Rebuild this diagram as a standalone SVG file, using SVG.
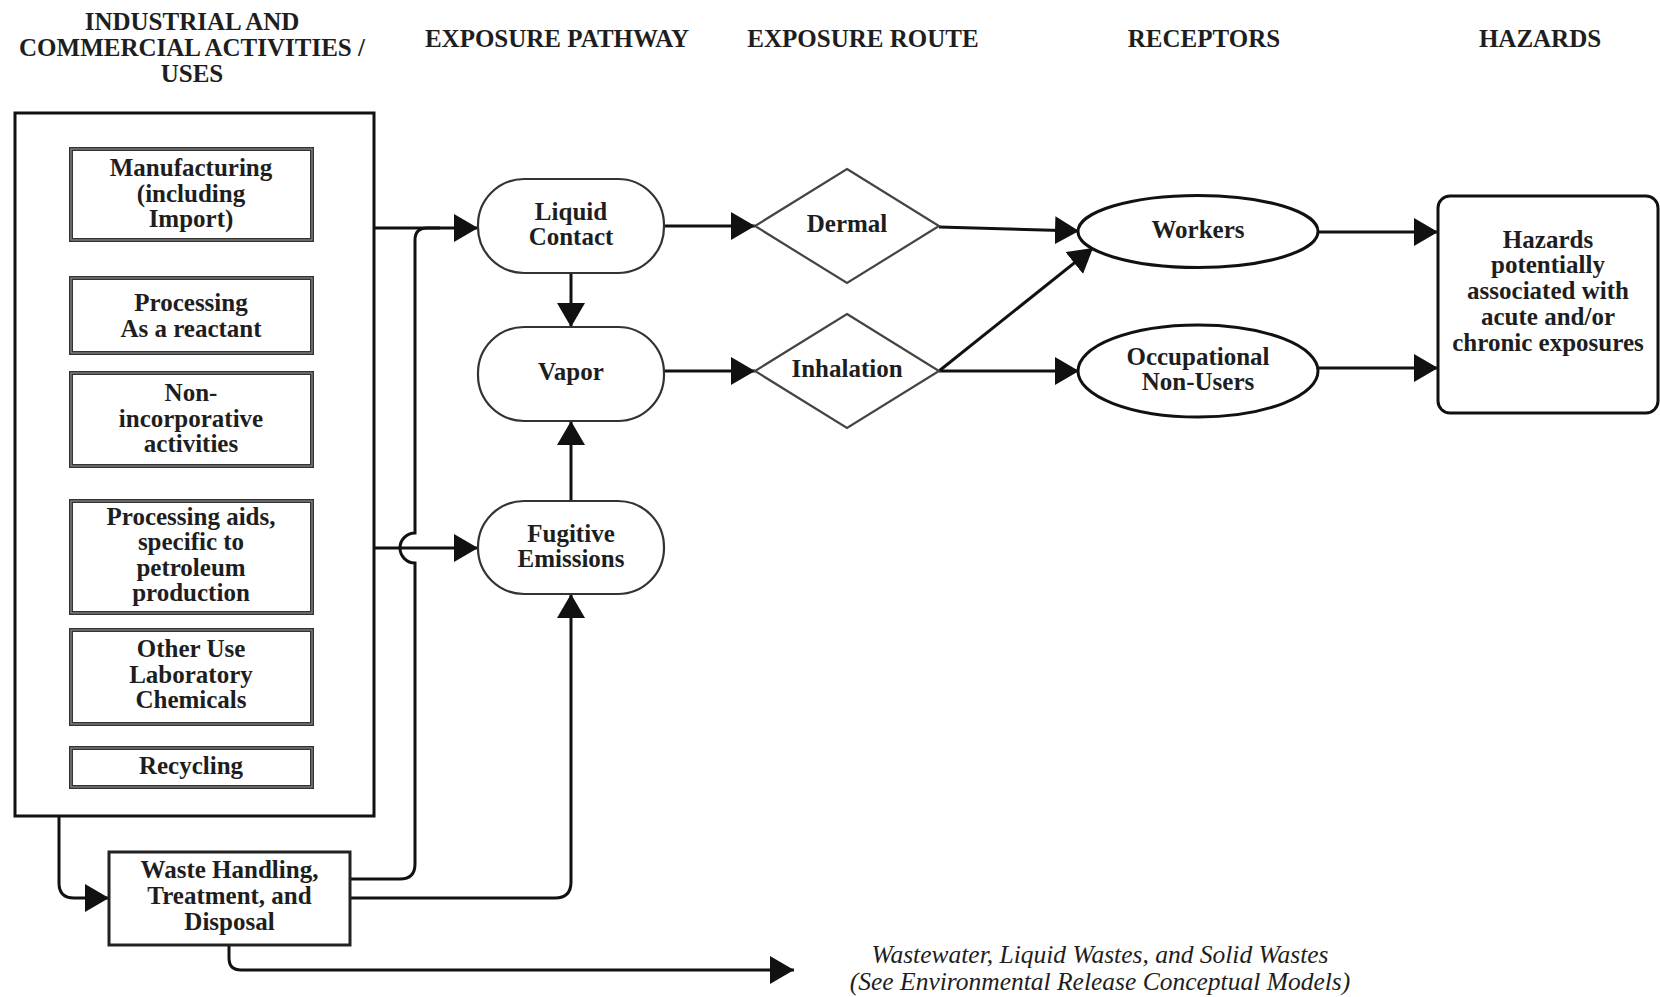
<svg xmlns="http://www.w3.org/2000/svg" width="1660" height="997" viewBox="0 0 1660 997">
<style>
  text { font-family: "Liberation Serif", "Times New Roman", serif; font-size: 25px; font-weight: bold; fill: #1e1e1e; text-anchor: middle; }
  .it { font-style: italic; font-weight: normal; font-size: 25.5px; }
  .outer { fill: #fff; stroke: #111; stroke-width: 3; }
  .inA { fill: #fff; stroke: #333; stroke-width: 4; }
  .inB { fill: none; stroke: #8a8a8a; stroke-width: 1.2; }
  .waste { fill: #fff; stroke: #222; stroke-width: 3; }
  .pill { fill: #fff; stroke: #333; stroke-width: 2.2; }
  .dia { fill: #fff; stroke: #444; stroke-width: 2.2; }
  .ell { fill: #fff; stroke: #111; stroke-width: 3; }
  .haz { fill: #fff; stroke: #111; stroke-width: 3; }
  .c { fill: none; stroke: #111; stroke-width: 3; }
  .ca { fill: none; stroke: #111; stroke-width: 3; marker-end: url(#ah); }
</style>
<defs>
  <marker id="ah" markerUnits="userSpaceOnUse" markerWidth="26" markerHeight="30" refX="24" refY="14" orient="auto" viewBox="0 0 26 30">
    <path d="M0,0 L24,14 L0,28 z" fill="#111"/>
  </marker>
</defs>
<rect width="1660" height="997" fill="#fff"/>

<g id="headers">
  <text x="192" y="30">INDUSTRIAL AND</text>
  <text x="192" y="56">COMMERCIAL ACTIVITIES /</text>
  <text x="192" y="82">USES</text>
  <text x="557" y="47">EXPOSURE PATHWAY</text>
  <text x="863" y="47">EXPOSURE ROUTE</text>
  <text x="1204" y="47">RECEPTORS</text>
  <text x="1540" y="47">HAZARDS</text>
</g>

<g id="connectors">
  <path class="ca" d="M374,228 H478"/>
  <path class="ca" d="M374,548 H478"/>
  <path class="ca" d="M571,273 V327"/>
  <path class="ca" d="M571,501 V421"/>
  <path class="ca" d="M664,226 H755"/>
  <path class="ca" d="M664,371 H755"/>
  <path class="ca" d="M939,227 L1079,231"/>
  <path class="ca" d="M939,371 L1093,248"/>
  <path class="ca" d="M939,371 H1079"/>
  <path class="ca" d="M1318,232 H1438"/>
  <path class="ca" d="M1318,368 H1438"/>
  <path class="ca" d="M59,816 V883 Q59,898 74,898 H109"/>
  <path class="c" d="M350,879 H400 Q415,879 415,864 V563 A15,15 0 0 1 415,533 V240 Q415,228 427,228 H440"/>
  <path class="ca" d="M350,898 H555 Q571,898 571,882 V594"/>
  <path class="ca" d="M229,945 V958 Q229,970 241,970 H794"/>
</g>

<g id="activities">
  <rect class="outer" x="15" y="113" width="359" height="703"/>
</g>

<g id="manufacturing">
  <rect class="inA" x="71" y="149" width="241" height="91"/>
  <rect class="inB" x="71" y="149" width="241" height="91"/>
  <text x="191" y="176">Manufacturing</text>
  <text x="191" y="201.5">(including</text>
  <text x="191" y="227">Import)</text>
</g>
<g id="processing">
  <rect class="inA" x="71" y="278" width="241" height="75"/>
  <rect class="inB" x="71" y="278" width="241" height="75"/>
  <text x="191" y="311">Processing</text>
  <text x="191" y="337">As a reactant</text>
</g>
<g id="nonincorporative">
  <rect class="inA" x="71" y="373" width="241" height="93"/>
  <rect class="inB" x="71" y="373" width="241" height="93"/>
  <text x="191" y="401">Non-</text>
  <text x="191" y="427">incorporative</text>
  <text x="191" y="452">activities</text>
</g>
<g id="processingaids">
  <rect class="inA" x="71" y="501" width="241" height="112"/>
  <rect class="inB" x="71" y="501" width="241" height="112"/>
  <text x="191" y="525">Processing aids,</text>
  <text x="191" y="550">specific to</text>
  <text x="191" y="576">petroleum</text>
  <text x="191" y="601">production</text>
</g>
<g id="otheruse">
  <rect class="inA" x="71" y="630" width="241" height="94"/>
  <rect class="inB" x="71" y="630" width="241" height="94"/>
  <text x="191" y="657">Other Use</text>
  <text x="191" y="683">Laboratory</text>
  <text x="191" y="708">Chemicals</text>
</g>
<g id="recycling">
  <rect class="inA" x="71" y="748" width="241" height="39"/>
  <rect class="inB" x="71" y="748" width="241" height="39"/>
  <text x="191" y="774">Recycling</text>
</g>

<g id="waste">
  <rect class="waste" x="109" y="852" width="241" height="93"/>
  <text x="229.5" y="878">Waste Handling,</text>
  <text x="229.5" y="904">Treatment, and</text>
  <text x="229.5" y="930">Disposal</text>
</g>

<g id="liquid">
  <rect class="pill" x="478" y="179" width="186" height="94" rx="46" ry="46"/>
  <text x="571" y="220">Liquid</text>
  <text x="571" y="245">Contact</text>
</g>
<g id="vapor">
  <rect class="pill" x="478" y="327" width="186" height="94" rx="46" ry="46"/>
  <text x="571" y="380">Vapor</text>
</g>
<g id="fugitive">
  <rect class="pill" x="478" y="501" width="186" height="93" rx="46" ry="46"/>
  <text x="571" y="542">Fugitive</text>
  <text x="571" y="567">Emissions</text>
</g>

<g id="dermal">
  <polygon class="dia" points="847,169 939,226 847,283 755,226"/>
  <text x="847" y="232">Dermal</text>
</g>
<g id="inhalation">
  <polygon class="dia" points="847,314 939,371 847,428 755,371"/>
  <text x="847" y="377">Inhalation</text>
</g>

<g id="workers">
  <ellipse class="ell" cx="1198" cy="231.5" rx="120" ry="36"/>
  <text x="1198" y="238">Workers</text>
</g>
<g id="occupational">
  <ellipse class="ell" cx="1198" cy="371" rx="120" ry="46"/>
  <text x="1198" y="365">Occupational</text>
  <text x="1198" y="390">Non-Users</text>
</g>

<g id="hazards">
  <rect class="haz" x="1438" y="196" width="220" height="217" rx="12" ry="12"/>
  <text x="1548" y="248">Hazards</text>
  <text x="1548" y="273">potentially</text>
  <text x="1548" y="299">associated with</text>
  <text x="1548" y="325">acute and/or</text>
  <text x="1548" y="351">chronic exposures</text>
</g>

<g id="wastewater">
  <text class="it" x="1100" y="963">Wastewater, Liquid Wastes, and Solid Wastes</text>
  <text class="it" x="1100" y="990">(See Environmental Release Conceptual Models)</text>
</g>
</svg>
